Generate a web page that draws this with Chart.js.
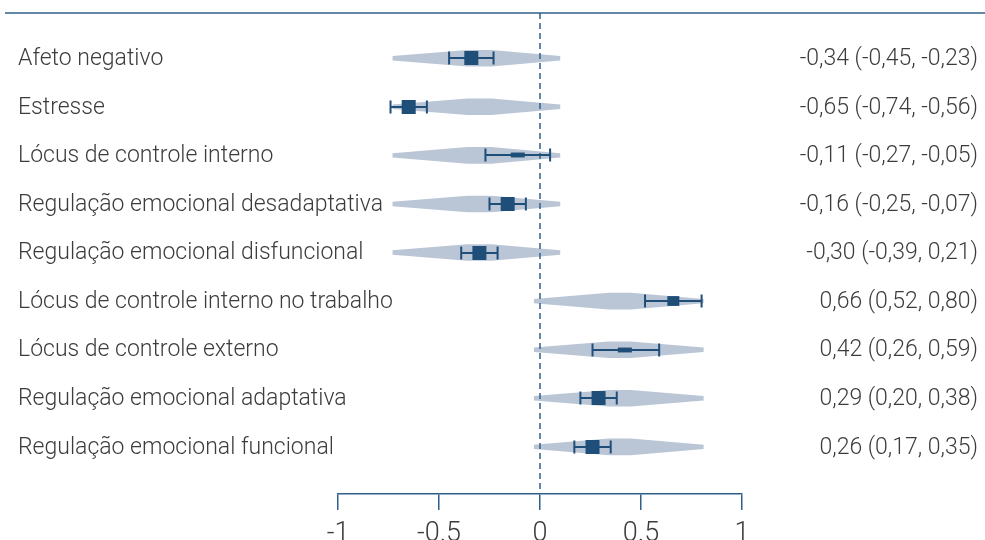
<!DOCTYPE html>
<html>
<head>
<meta charset="utf-8">
<script src="https://cdn.jsdelivr.net/npm/chart.js@4/dist/chart.umd.min.js"></script>
<style>
  html, body { margin: 0; padding: 0; background: #fff; overflow: hidden; }
  #wrap { width: 985px; height: 560px; position: relative; }
</style>
</head>
<body>
<div id="wrap"><canvas id="forest"></canvas></div>
<script>
// Outcomes, one per row (top to bottom)
const categories = [
  'Afeto negativo',
  'Estresse',
  'Lócus de controle interno',
  'Regulação emocional desadaptativa',
  'Regulação emocional disfuncional',
  'Lócus de controle interno no trabalho',
  'Lócus de controle externo',
  'Regulação emocional adaptativa',
  'Regulação emocional funcional'
];

// Correlation estimates and 95% intervals
const estimates = [-0.34, -0.65, -0.11, -0.16, -0.30, 0.66, 0.42, 0.29, 0.26];
const lowerCI   = [-0.45, -0.74, -0.27, -0.25, -0.39, 0.52, 0.26, 0.20, 0.17];
const upperCI   = [-0.23, -0.56,  0.05, -0.07, -0.21, 0.80, 0.59, 0.38, 0.35];

// Printed summaries in the right column
const summaryLabels = [
  '-0,34 (-0,45, -0,23)',
  '-0,65 (-0,74, -0,56)',
  '-0,11 (-0,27, -0,05)',
  '-0,16 (-0,25, -0,07)',
  '-0,30 (-0,39, 0,21)',
  '0,66 (0,52, 0,80)',
  '0,42 (0,26, 0,59)',
  '0,29 (0,20, 0,38)',
  '0,26 (0,17, 0,35)'
];

// Relative study weight per row (drives the marker height)
const weights = [1.0, 1.0, 0.35, 1.0, 1.0, 0.7, 0.35, 1.0, 1.0];

// Background distribution shapes: [left tip, plateau start, plateau end, right tip]
const shapeNegative = [-0.73, -0.36, -0.24, 0.10];
const shapePositive = [-0.03, 0.34, 0.45, 0.81];
const shapeGroup = ['neg', 'neg', 'neg', 'neg', 'neg', 'pos', 'pos', 'pos', 'pos'];

// Axis ticks
const xTickValues = [-1, -0.5, 0, 0.5, 1];
const xTickLabels = ['-1', '-0.5', '0', '0.5', '1'];

const DARK = '#1f4e79';
const LINE = '#2f5f8a';
const SHAPE = '#bac6d6';
const TEXT = '#3c3c3c';
const FONT = '300 23px Roboto, "Noto Sans", sans-serif';

const rows = categories.map((_, i) => i + 1);

const forestPlugin = {
  id: 'forestMarks',
  beforeDatasetsDraw(chart) {
    const { ctx, chartArea, scales: { x, y } } = chart;
    ctx.save();

    // top rule across the whole width
    ctx.strokeStyle = LINE;
    ctx.lineWidth = 1.5;
    ctx.beginPath();
    ctx.moveTo(5, chartArea.top);
    ctx.lineTo(chart.width, chartArea.top);
    ctx.stroke();

    // distribution shapes behind the markers
    ctx.fillStyle = SHAPE;
    rows.forEach((r, i) => {
      const s = shapeGroup[i] === 'neg' ? shapeNegative : shapePositive;
      const cy = y.getPixelForValue(r);
      const tip = 2.2, full = 8.3;
      ctx.beginPath();
      ctx.moveTo(x.getPixelForValue(s[0]), cy - tip);
      ctx.lineTo(x.getPixelForValue(s[1]), cy - full);
      ctx.lineTo(x.getPixelForValue(s[2]), cy - full);
      ctx.lineTo(x.getPixelForValue(s[3]), cy - tip);
      ctx.lineTo(x.getPixelForValue(s[3]), cy + tip);
      ctx.lineTo(x.getPixelForValue(s[2]), cy + full);
      ctx.lineTo(x.getPixelForValue(s[1]), cy + full);
      ctx.lineTo(x.getPixelForValue(s[0]), cy + tip);
      ctx.closePath();
      ctx.fill();
    });

    // dashed reference line at zero
    const x0 = x.getPixelForValue(0);
    ctx.strokeStyle = LINE;
    ctx.lineWidth = 1.5;
    ctx.setLineDash([6, 4]);
    ctx.beginPath();
    ctx.moveTo(x0, chartArea.top);
    ctx.lineTo(x0, chartArea.bottom);
    ctx.stroke();
    ctx.setLineDash([]);

    // intervals and estimate markers
    rows.forEach((r, i) => {
      const cy = Math.round(y.getPixelForValue(r));
      const xl = x.getPixelForValue(lowerCI[i]);
      const xu = x.getPixelForValue(upperCI[i]);
      const xe = x.getPixelForValue(estimates[i]);
      ctx.strokeStyle = DARK;
      ctx.lineWidth = 2;
      ctx.beginPath();
      ctx.moveTo(xl, cy); ctx.lineTo(xu, cy);
      ctx.moveTo(xl, cy - 6.5); ctx.lineTo(xl, cy + 6.5);
      ctx.moveTo(xu, cy - 6.5); ctx.lineTo(xu, cy + 6.5);
      ctx.stroke();
      const h = 14 * weights[i];
      const w = weights[i] < 0.9 && weights[i] > 0.5 ? 12 : 14;
      ctx.fillStyle = DARK;
      ctx.fillRect(xe - w / 2, cy - h / 2, w, h);
    });

    // row labels and summaries
    ctx.fillStyle = TEXT;
    ctx.font = FONT;
    ctx.textBaseline = 'middle';
    rows.forEach((r, i) => {
      const cy = y.getPixelForValue(r) + 1;
      ctx.textAlign = 'left';
      ctx.fillText(categories[i], 18, cy);
      ctx.textAlign = 'right';
      ctx.fillText(summaryLabels[i], 978, cy);
    });

    ctx.restore();
  }
};

new Chart(document.getElementById('forest'), {
  type: 'scatter',
  data: {
    datasets: [{
      data: rows.map((r, i) => ({ x: estimates[i], y: r })),
      pointRadius: 0,
      pointHoverRadius: 0
    }]
  },
  options: {
    responsive: true,
    maintainAspectRatio: false,
    animation: false,
    events: [],
    layout: { padding: { left: 338, right: 243, top: 13, bottom: 20 } },
    plugins: { legend: { display: false }, tooltip: { enabled: false } },
    scales: {
      x: {
        type: 'linear',
        min: -1,
        max: 1,
        afterBuildTicks(scale) { scale.ticks = xTickValues.map(v => ({ value: v })); },
        afterFit(scale) { scale.height = 46; },
        ticks: {
          callback: (v) => xTickLabels[xTickValues.indexOf(v)],
          color: TEXT,
          font: { family: 'Roboto', size: 27, weight: 300 },
          padding: 8,
          maxRotation: 0
        },
        grid: { drawOnChartArea: false, drawTicks: true, tickLength: 16, color: LINE, lineWidth: 1.5 },
        border: { display: true, color: LINE, width: 1.5 }
      },
      y: {
        type: 'linear',
        min: 0.07,
        max: 9.97,
        reverse: true,
        display: false
      }
    }
  },
  plugins: [forestPlugin]
});
</script>
</body>
</html>
